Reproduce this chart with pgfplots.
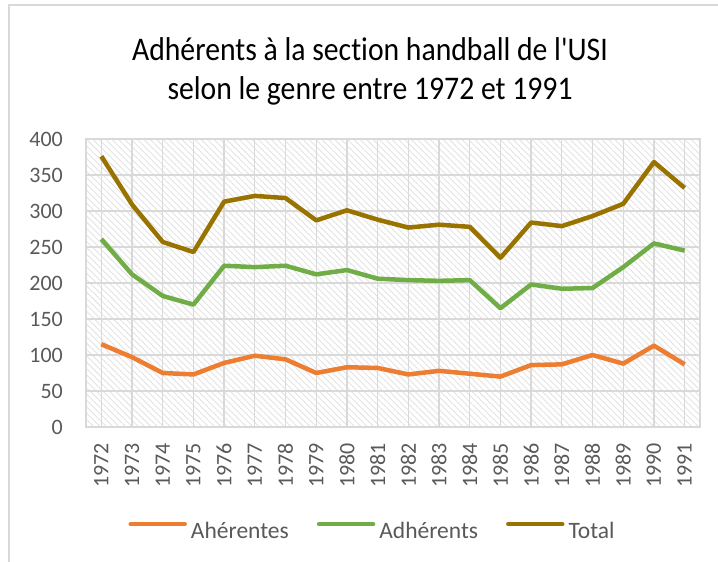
\documentclass[border=0pt]{standalone}
\usepackage{fontspec}
\setmainfont{Carlito}[Ligatures={TeX,NoCommon}]
\newfontfamily\titlefont{Carlito}[FakeStretch=0.9, Ligatures=NoCommon]
\usepackage{pgfplots}
\pgfplotsset{compat=1.18}
\usetikzlibrary{patterns.meta}

\definecolor{fem}{HTML}{ED7D31}
\definecolor{masc}{HTML}{70AD47}
\definecolor{tot}{HTML}{997300}
\definecolor{gridgray}{HTML}{D9D9D9}
\definecolor{txtgray}{HTML}{595959}

\begin{document}
\begin{tikzpicture}[x=1pt,y=1pt]
\useasboundingbox (0,0) rectangle (718,-562);
% chart frame (cut off at the right and bottom)
\draw[gridgray, line width=1.5pt] (9,-562) -- (9,-5) -- (718,-5);

% title
\node[font=\titlefont\fontsize{33}{39}\selectfont, anchor=base] at (370,-60)
  {Adhérents à la section handball de l'USI};
\node[font=\titlefont\fontsize{33}{39}\selectfont, anchor=base] at (370,-99)
  {selon le genre entre 1972 et 1991};

\begin{axis}[
  at={(86pt,-427pt)}, anchor=south west,
  scale only axis, width=614pt, height=288pt,
  xmin=1971.5, xmax=1991.5,
  ymin=0, ymax=400,
  xtick={1972,...,1991},
  ytick={0,50,...,400},
  minor x tick num=1,
  grid=both,
  major grid style={gridgray, line width=1.3pt},
  minor grid style={gridgray, line width=1.3pt},
  axis line style={gridgray, line width=1.3pt},
  axis background/.style={pattern={Lines[angle=-45, distance=4.5pt, line width=0.9pt]},
    pattern color=black!11},
  major tick length=0pt, minor tick length=0pt,
  tick label style={font=\fontsize{22}{22}\selectfont, text=txtgray, inner sep=0pt},
  /pgf/number format/assume math mode=true,
  /pgf/number format/1000 sep={},
  xticklabel style={rotate=90, anchor=east},
  xticklabel shift=16pt,
  yticklabel shift=23pt,
  legend style={at={(0.465,-0.361)}, anchor=center, legend columns=-1,
    draw=none, fill=none, font=\fontsize{23.5}{23.5}\selectfont, text=txtgray,
    inner sep=0pt, nodes={inner sep=0pt},
    /tikz/every odd column/.append style={column sep=4pt},
    /tikz/every even column/.append style={column sep=28pt}},
  legend image code/.code={\draw[#1, line cap=round] (0pt,7pt) -- (54pt,7pt);},
]
% Ahérentes
\addplot[fem, line width=4.5pt, line join=round] coordinates {
  (1972,115) (1973,97) (1974,75) (1975,73) (1976,89) (1977,99) (1978,94)
  (1979,75) (1980,83) (1981,82) (1982,73) (1983,78) (1984,74) (1985,70)
  (1986,86) (1987,87) (1988,100) (1989,88) (1990,113) (1991,87)
};
% Adhérents
\addplot[masc, line width=4.5pt, line join=round] coordinates {
  (1972,261) (1973,212) (1974,182) (1975,170) (1976,224) (1977,222) (1978,224)
  (1979,212) (1980,218) (1981,206) (1982,204) (1983,203) (1984,204) (1985,165)
  (1986,198) (1987,192) (1988,193) (1989,222) (1990,255) (1991,245)
};
% Total
\addplot[tot, line width=4.5pt, line join=round] coordinates {
  (1972,376) (1973,309) (1974,257) (1975,243) (1976,313) (1977,321) (1978,318)
  (1979,287) (1980,301) (1981,288) (1982,277) (1983,281) (1984,278) (1985,235)
  (1986,284) (1987,279) (1988,293) (1989,310) (1990,368) (1991,332)
};
\legend{Ahérentes, Adhérents, Total}
\end{axis}
\end{tikzpicture}
\end{document}
